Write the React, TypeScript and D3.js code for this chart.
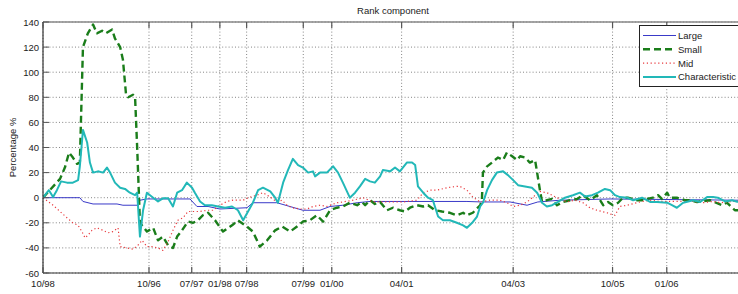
import React from "react";
import * as d3 from "d3";

const W = 738;
const H = 294;

const title = "Rank component";
const yLabel = "Percentage %";
const yTicks = [140, 120, 100, 80, 60, 40, 20, 0, -20, -40, -60];
const xTickLabels = ["10/98", "10/96", "07/97", "01/98", "07/98", "07/99", "01/00", "04/01", "04/03", "10/05", "01/06"];
const xTickPos = [0, 30.5, 42.8, 50.9, 58.6, 74.9, 83.1, 103.2, 135.3, 163.9, 179.5];

const largeSeries: [number, number][] = [
  [0, 0], [10.6, 0], [11.5, -3], [14.4, -5], [21.3, -5], [23.0, -6], [27.1, -6], [27.9, -2], [29.9, -1],
  [42.3, -1], [44.3, -7], [47.5, -7], [50.9, -9], [58.7, -8], [60.4, -4], [67.3, -4], [74.8, -10], [79.7, -10],
  [82.6, -7], [86.3, -6], [90.4, -4], [94.1, -3], [110.5, -3], [122.0, -3], [126.3, -3.4], [134.4, -3.4],
  [139.3, -6], [142.4, -3.4], [148.8, -2], [163.2, -1], [200, -2],
];

const smallSeries: [number, number][] = [
  [0, 0], [4.9, 15], [6.3, 24], [7.5, 36], [8.6, 32], [9.8, 27], [10.6, 28], [11.5, 120], [12.9, 131],
  [14.4, 138], [15.5, 131], [17.0, 133], [18.1, 131], [19.9, 134], [20.7, 127], [22.2, 120], [23.0, 110],
  [23.9, 82], [24.5, 80], [25.9, 82], [26.5, 80], [27.1, 40], [27.9, -20], [29.9, -27], [31.7, -24],
  [33.1, -34], [34.5, -31], [36.0, -38], [37.4, -40], [38.6, -31], [40.0, -26], [41.7, -19], [43.2, -20],
  [44.6, -18], [46.0, -14], [47.5, -12], [49.5, -18], [51.8, -27], [54.4, -22], [56.1, -18], [58.7, -23],
  [60.4, -27], [62.4, -39], [64.5, -34], [66.8, -26], [68.8, -23], [71.1, -27], [73.1, -23], [74.8, -19],
  [76.8, -18], [78.8, -14], [80.6, -19], [82.6, -10], [84.6, -8], [86.3, -7], [88.3, -4], [90.4, -6],
  [91.8, -3.4], [92.7, -6], [94.1, -2], [95.5, -5], [97.0, -3.4], [99.0, -10], [100.7, -8], [102.7, -10],
  [104.2, -11], [105.6, -8], [107.6, -6], [109.4, -7], [110.8, -6], [112.8, -10], [114.8, -11], [117.1, -12],
  [119.1, -14], [120.9, -12], [122.0, -14], [123.7, -12], [125.8, -6], [126.3, -2], [126.6, 20], [127.8, 25],
  [129.2, 28], [130.9, 32], [132.4, 30], [133.5, 36], [135.0, 33], [136.4, 30], [137.3, 33], [138.7, 32],
  [140.1, 28], [141.6, 30], [142.2, 20], [143.0, 6], [143.6, -3], [145.0, -2], [146.5, -1], [147.9, -6],
  [149.6, -3.4], [151.7, -2], [153.7, -1], [155.4, 2], [157.4, -2], [159.4, 2], [161.2, -6], [162.6, -3.4],
  [164.0, -6], [165.5, -4], [166.9, 0], [168.3, 0], [169.8, -1], [170.9, -2], [172.4, -2], [173.8, -1],
  [175.5, 0], [177.0, 2], [178.1, -1], [179.6, 4], [180.4, 0], [182.4, 0], [184.7, -2], [186.2, -2],
  [188.2, -3.4], [191.9, -2], [195.4, -6], [196.8, -4], [199.1, -10], [200, -10],
];

const midSeries: [number, number][] = [
  [0, 0], [2.9, -6], [4.9, -11], [6.9, -16], [8.6, -20], [10.1, -22], [11.2, -27], [12.1, -32], [12.9, -30],
  [14.1, -26], [15.5, -24], [17.3, -26], [18.7, -28], [20.1, -27], [21.6, -24], [22.2, -39], [24.2, -40],
  [25.9, -41], [27.3, -38], [28.5, -34], [29.9, -39], [31.4, -39], [33.1, -40], [34.5, -42], [36.0, -35],
  [37.4, -26], [38.8, -18], [40.3, -16], [41.7, -11], [43.2, -11], [45.2, -11], [47.2, -10], [48.9, -10],
  [50.9, -6], [52.9, -3], [54.7, -2], [57.6, -2], [59.0, 0], [61.6, 2], [63.3, 4], [65.4, 0.5], [67.3, -3.4],
  [68.8, -2], [70.2, -6], [71.7, -8], [74.0, -9], [76.0, -9], [77.7, -7], [79.7, -6], [81.7, -7], [84.6, -4],
  [86.3, -3.4], [89.2, -2], [92.1, 0], [95.0, -3.4], [99.0, -3.4], [103.6, -3.4], [107.6, -2], [109.4, 4],
  [111.4, 6], [113.4, 6], [116.3, 8], [119.1, 9], [120.0, 9], [122.0, 6], [123.7, 0.5], [125.8, -3.4],
  [128.6, -2], [131.5, -2], [133.5, -4], [135.3, -7], [137.3, -6], [139.3, -3.4], [143.0, 5], [145.0, 4],
  [147.9, 0], [150.8, -3.4], [153.1, -2], [155.4, -4], [157.4, -8], [159.4, -10], [162.3, -12], [163.2, -13],
  [164.6, -14], [166.0, -7], [168.1, -6], [171.8, -3.4], [174.7, -2], [177.6, -3], [182.4, -3], [187.1, -3],
  [189.9, -4], [192.8, -3], [194.8, -4], [198.6, -3], [200, -3],
];

const charSeries: [number, number][] = [
  [0, 0], [1.7, 6], [2.9, 0.5], [4.0, 6], [5.2, 13], [6.9, 12], [8.6, 12], [10.1, 14], [10.6, 25], [11.5, 54],
  [12.7, 44], [13.5, 28], [14.4, 20], [15.8, 21], [17.3, 20], [18.4, 24], [19.3, 20], [20.7, 12], [22.2, 8],
  [23.6, 7], [25.0, 4], [26.5, 2], [27.1, 4], [27.9, -31], [28.8, -10], [29.9, 4], [31.7, 0], [33.1, -3],
  [34.5, -0.5], [36.0, -0.5], [37.4, -7], [38.6, 4], [40.0, 6], [41.4, 12], [42.9, 8], [43.7, 4], [45.2, -3],
  [46.6, -6], [48.6, -6], [50.4, -7], [52.4, -8], [54.4, -7], [56.1, -10], [57.6, -18], [59.0, -11], [60.4, -4],
  [61.9, 6], [63.3, 8], [65.4, 5], [66.8, 0], [67.6, -4], [69.1, 12], [70.5, 22], [71.9, 31], [73.4, 26],
  [74.8, 24], [76.3, 20], [77.7, 21], [78.3, 17], [79.7, 20], [81.7, 20], [83.5, 25], [84.9, 20], [86.3, 12],
  [88.3, 0], [89.8, 4], [91.2, 9], [92.7, 15], [94.1, 13], [95.5, 12], [97.0, 17], [97.8, 22], [99.9, 21],
  [101.3, 24], [102.7, 21], [104.7, 28], [106.2, 28], [107.1, 26], [107.9, 9], [109.4, 4], [110.8, 0],
  [112.2, -2], [113.7, -15], [115.1, -18], [117.1, -18], [119.1, -20], [120.9, -22], [122.0, -24], [123.5, -20],
  [124.9, -15], [125.8, -7], [126.6, -4], [127.8, 6], [129.2, 14], [130.6, 20], [132.4, 21], [133.8, 18],
  [135.3, 14], [136.7, 10], [138.7, 9], [140.7, 8], [142.2, 4], [143.6, -4], [145.0, -7], [146.5, -6],
  [148.2, -3.4], [150.2, 0], [152.5, 2], [154.5, 4], [156.0, 1], [158.0, 2], [159.7, 4], [161.7, 7],
  [163.2, 6], [164.6, 2], [166.0, 0.5], [168.1, 0], [169.8, -2], [172.4, 0], [174.7, -3.4], [176.7, -3.4],
  [179.6, -4], [181.0, -6], [182.4, -8], [184.2, -4], [187.1, -2], [189.1, -3.4], [191.1, 0.5], [192.8, 0.5],
  [194.2, 0], [196.3, -3], [198.3, -2], [200, -3.4],
];

const seriesNames = ["Large", "Small", "Mid", "Characteristic"];
const seriesData = [largeSeries, smallSeries, midSeries, charSeries];
const seriesStyles = [
  { color: "#3a3ac8", width: 1, dash: "" },
  { color: "#1a7d1a", width: 2.4, dash: "7 4" },
  { color: "#e8383c", width: 1.2, dash: "1.2 2.6" },
  { color: "#22b8b8", width: 2, dash: "" },
];

const FONT = "'Liberation Sans', Arial, sans-serif";

export default function App() {
  const left = 43, top = 22, bottom = 273, right = 743;
  const x = d3.scaleLinear().domain([0, 200]).range([left, 738]);
  const y = d3.scaleLinear().domain([-60, 140]).range([bottom, top]);
  const line = d3.line<[number, number]>().x((d) => x(d[0])).y((d) => y(d[1]));

  return (
    <svg width={W} height={H} style={{ position: "absolute", left: 0, top: 0, background: "#fff" }} fontFamily={FONT}>
      <defs>
        <clipPath id="plotclip">
          <rect x={left} y={top} width={right - left} height={bottom - top} />
        </clipPath>
      </defs>
      <rect x={0} y={0} width={W} height={H} fill="#fff" />
      {/* grid */}
      {yTicks.map((t) => (
        <line key={"gy" + t} x1={left} x2={right} y1={y(t)} y2={y(t)} stroke="#666" strokeWidth={0.8} strokeDasharray="1 2.2" />
      ))}
      {xTickPos.map((t, i) => (
        <line key={"gx" + i} x1={x(t)} x2={x(t)} y1={top} y2={bottom} stroke="#666" strokeWidth={0.8} strokeDasharray="1 2.2" />
      ))}
      {/* series */}
      <g clipPath="url(#plotclip)">
        {seriesData.map((s, i) => (
          <path key={seriesNames[i]} d={line(s) || ""} fill="none" stroke={seriesStyles[i].color}
            strokeWidth={seriesStyles[i].width} strokeDasharray={seriesStyles[i].dash || undefined} strokeLinejoin="round" />
        ))}
      </g>
      {/* axes frame */}
      <line x1={left} x2={right} y1={top} y2={top} stroke="#888" strokeWidth={1.6} />
      <line x1={left} x2={right} y1={bottom} y2={bottom} stroke="#333" strokeWidth={1.2} />
      <line x1={left} x2={left} y1={top} y2={bottom} stroke="#333" strokeWidth={1.2} />
      {/* ticks */}
      {xTickPos.map((t, i) => (
        <g key={"xt" + i}>
          <line x1={x(t)} x2={x(t)} y1={bottom} y2={bottom - 6} stroke="#555" strokeWidth={1.2} />
          <line x1={x(t)} x2={x(t)} y1={top} y2={top + 6} stroke="#555" strokeWidth={1.2} />
          <text x={x(t)} y={287} fontSize={9.5} textAnchor="middle" fill="#222">{xTickLabels[i]}</text>
        </g>
      ))}
      {yTicks.map((t) => (
        <g key={"yt" + t}>
          <line x1={left} x2={left + 6} y1={y(t)} y2={y(t)} stroke="#555" strokeWidth={1} />
          <text x={39} y={y(t) + 3.5} fontSize={9.5} textAnchor="end" fill="#222">{t}</text>
        </g>
      ))}
      {/* labels */}
      <text x={393} y={14} fontSize={9.5} textAnchor="middle" fill="#222">{title}</text>
      <text transform={`translate(16,${(top + bottom) / 2}) rotate(-90)`} fontSize={9.5} textAnchor="middle" fill="#222">{yLabel}</text>
      {/* legend */}
      <g>
        <rect x={639.5} y={25.5} width={110} height={61} fill="#fff" stroke="#222" strokeWidth={1} />
        {seriesNames.map((n, i) => {
          const ly = 35.5 + i * 13.8;
          return (
            <g key={"lg" + n}>
              <line x1={643} x2={676} y1={ly} y2={ly} stroke={seriesStyles[i].color}
                strokeWidth={seriesStyles[i].width} strokeDasharray={seriesStyles[i].dash || undefined} />
              <text x={678} y={ly + 3.5} fontSize={9.5} fill="#222">{n}</text>
            </g>
          );
        })}
      </g>
    </svg>
  );
}
